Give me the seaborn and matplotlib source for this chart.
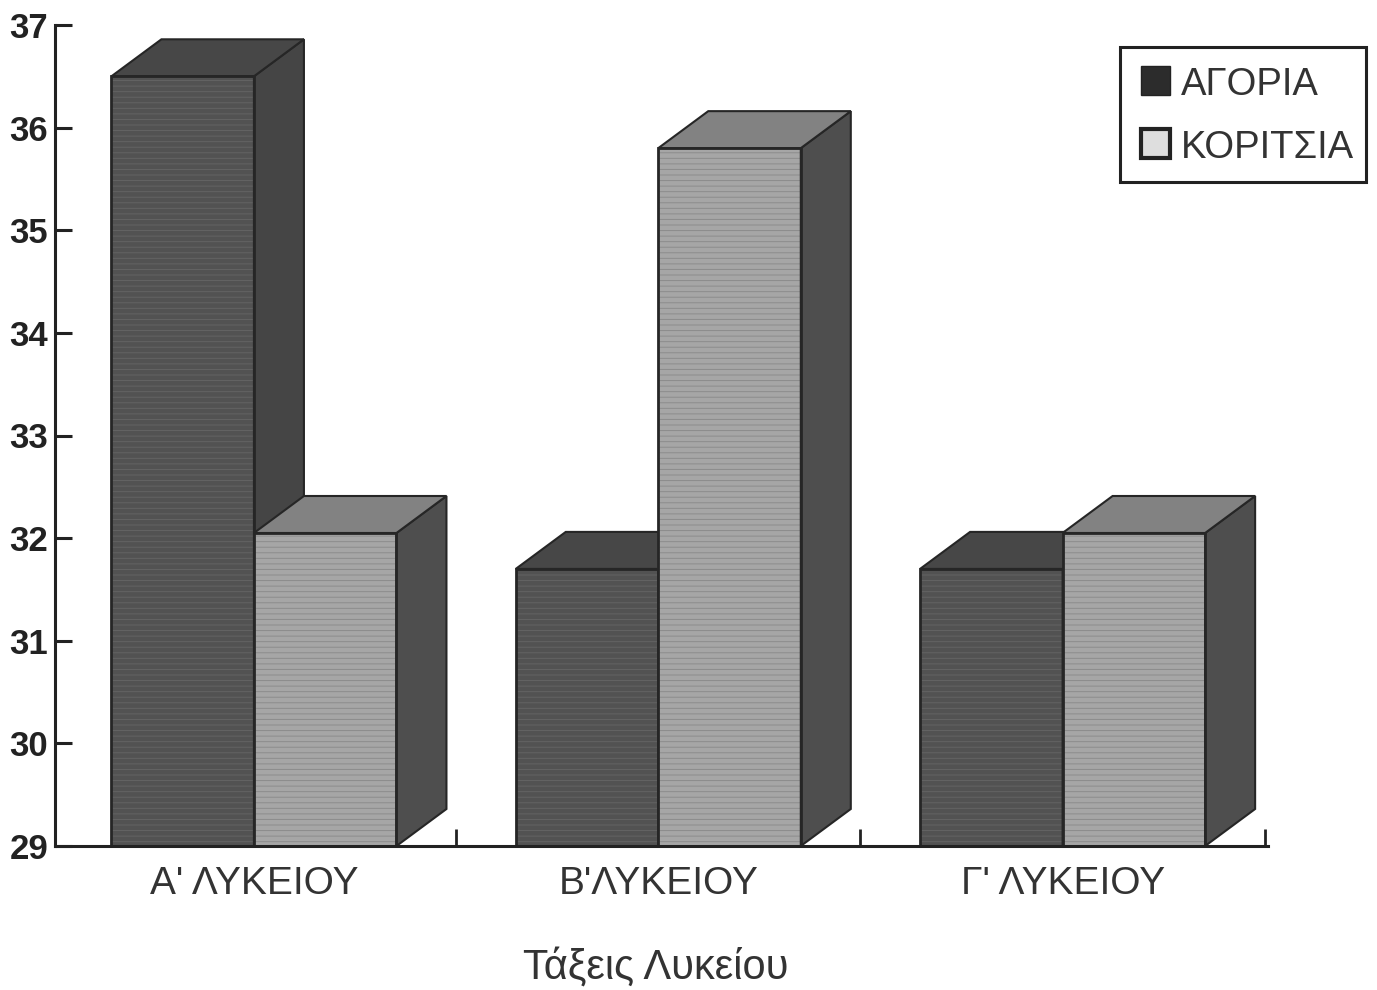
import matplotlib
matplotlib.use('Agg')
import matplotlib.pyplot as plt
from matplotlib.legend_handler import HandlerPatch
from matplotlib.patches import Patch, Polygon, Rectangle
import pandas as pd
import seaborn as sns

# Values
classes = ["Α' ΛΥΚΕΙΟΥ", "Β'ΛΥΚΕΙΟΥ", "Γ' ΛΥΚΕΙΟΥ"]
boys = [36.5, 31.7, 31.7]
girls = [32.05, 35.8, 32.05]
series_names = ['ΑΓΟΡΙΑ', 'ΚΟΡΙΤΣΙΑ']
y_ticks = list(range(29, 38))

W, H = 1377, 990

df = pd.DataFrame({
    'class': classes * 2,
    'value': boys + girls,
    'sex': [series_names[0]] * 3 + [series_names[1]] * 3,
})

sns.set_style('ticks')
plt.rcParams['font.family'] = ['Liberation Sans', 'DejaVu Sans']
plt.rcParams['hatch.linewidth'] = 0.7

fig = plt.figure(figsize=(W / 100, H / 100), dpi=100)
ax = fig.add_axes([55 / W, 1 - 846 / H, (1268 - 55) / W, (846 - 25) / H])

sns.barplot(data=df, x='class', y='value', hue='sex', order=classes,
            hue_order=series_names, width=0.705, gap=0, legend=False, ax=ax)

ax.set_xlim(-0.492, 2.508)
ax.set_ylim(29, 37)

# depth of the fake 3D boxes, in data units
dx = 50 / ((1268 - 55) / 3.0)
dy = 37 / ((846 - 25) / 8.0)
y0 = 29

styles = [
    {'front': '#525252', 'line': '#646464', 'top': '#474747', 'side': '#454545', 'z': 2},
    {'front': '#a6a6a6', 'line': '#8c8c8c', 'top': '#828282', 'side': '#4e4e4e', 'z': 3},
]
outline = '#262626'

for container, st in zip(ax.containers, styles):
    for bar in container:
        x0 = bar.get_x()
        x1 = x0 + bar.get_width()
        y1 = bar.get_height()
        bar.set_facecolor(st['front'])
        bar.set_edgecolor(st['line'])
        bar.set_linewidth(0)
        bar.set_hatch('---')
        bar.set_zorder(st['z'])
        ax.add_patch(Rectangle((x0, y0), x1 - x0, y1 - y0, fill=False,
                               ec=outline, lw=2, zorder=st['z'] + 0.2))
        ax.add_patch(Polygon([(x1, y0), (x1, y1), (x1 + dx, y1 + dy), (x1 + dx, y0 + dy)],
                             fc=st['side'], ec=outline, lw=1.5, zorder=st['z'] + 0.1))
        ax.add_patch(Polygon([(x0, y1), (x1, y1), (x1 + dx, y1 + dy), (x0 + dx, y1 + dy)],
                             fc=st['top'], ec=outline, lw=1.5, zorder=st['z'] + 0.1))

sns.despine(ax=ax)
for s in ['left', 'bottom']:
    ax.spines[s].set_linewidth(2.2)
    ax.spines[s].set_color('#222222')
    ax.spines[s].set_zorder(5)

ax.set_yticks(y_ticks)
ax.tick_params(axis='y', direction='in', length=12, width=2.2, color='#222222', pad=5)
for lab in ax.get_yticklabels():
    lab.set_fontsize(25)
    lab.set_fontweight('bold')
    lab.set_color('#222222')

ax.set_xticks([0.5, 1.5, 2.5], minor=True)
ax.tick_params(axis='x', which='minor', direction='in', length=12, width=2, color='#222222')
ax.tick_params(axis='x', which='major', length=0, pad=14.5, labelsize=28, labelcolor='#333333')

ax.set_ylabel('')
ax.set_xlabel('Τάξεις Λυκείου', fontsize=30, color='#333333', labelpad=32.5, x=0.495)


# swatch sits on the text baseline, with blank space on its left
def swatch(legend, orig_handle, xdescent, ydescent, width, height, fontsize):
    return Rectangle((0.235 * fontsize, 0), width - 0.235 * fontsize, 0.76 * fontsize)


fs = 27.5
handles = [Patch(fc='#2c2c2c', ec='#222222', lw=1),
           Patch(fc='#dedede', ec='#222222', lw=3)]
leg = ax.legend(handles, series_names, loc='upper left',
                bbox_to_anchor=(1120 / W, 1 - 47 / H), bbox_transform=fig.transFigure,
                fontsize=fs, frameon=True, fancybox=False, edgecolor='#222222',
                framealpha=1, handlelength=1.0, handleheight=1.557, handletextpad=0.28,
                labelspacing=0.39, borderpad=0.31, borderaxespad=0, labelcolor='#333333',
                handler_map={Patch: HandlerPatch(patch_func=swatch)})
leg.get_frame().set_linewidth(2.2)
leg.set_zorder(10)

fig.savefig('out.png', dpi=100)
